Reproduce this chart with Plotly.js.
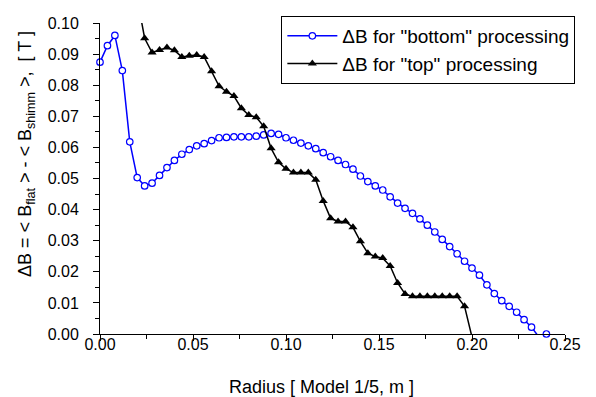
<!DOCTYPE html>
<html><head><meta charset="utf-8">
<script src="https://cdn.plot.ly/plotly-3.0.1.min.js"></script>
<style>html,body{margin:0;padding:0;background:#fff}#chart{width:596px;height:397px}</style>
</head><body><div id="chart"></div>
<script>
const radiusBottom = [0.000,0.004,0.008,0.012,0.016,0.020,0.024,0.028,0.032,0.036,0.040,0.044,0.048,0.052,0.056,0.060,0.064,0.068,0.072,0.076,0.080,0.084,0.088,0.092,0.096,0.100,0.104,0.108,0.112,0.116,0.120,0.124,0.128,0.132,0.136,0.140,0.144,0.148,0.152,0.156,0.160,0.164,0.168,0.172,0.176,0.180,0.184,0.188,0.192,0.196,0.200,0.204,0.208,0.212,0.216,0.220,0.224,0.228,0.232,0.236,0.240];
const dBBottom = [0.0874,0.0927,0.0960,0.0847,0.0618,0.0503,0.0476,0.0485,0.0510,0.0535,
0.0558,0.0578,0.0593,0.0605,0.0612,0.0622,0.0631,0.0632,0.0634,0.0634,
0.0634,0.0636,0.0640,0.0645,0.0642,0.0631,0.0623,0.0614,0.0605,0.0596,
0.0583,0.0570,0.0558,0.0545,0.0530,0.0508,0.0490,0.0476,0.0463,0.0441,
0.0421,0.0404,0.0388,0.0370,0.0350,0.0328,0.0304,0.0281,0.0258,0.0234,
0.0212,0.0189,0.0158,0.0130,0.0107,0.0089,0.0070,0.0046,0.0022,-0.0010,0.0000];
const radiusTop = [0.020,0.024,0.028,0.032,0.036,0.040,0.044,0.048,0.052,0.056,0.060,0.064,0.068,0.072,0.076,0.080,0.084,0.088,0.092,0.096,0.100,0.104,0.108,0.112,0.116,0.120,0.124,0.128,0.132,0.136,0.140,0.144,0.148,0.152,0.156,0.160,0.164,0.168,0.172,0.176,0.180,0.184,0.188,0.192,0.196,0.200];
const dBTop = [0.1080,0.0951,0.0905,0.0913,0.0921,0.0912,0.0891,0.0895,0.0897,0.0891,
0.0845,0.0797,0.0779,0.0765,0.0726,0.0704,0.0697,0.0668,0.0597,0.0552,
0.0531,0.0519,0.0519,0.0519,0.0496,0.0428,0.0372,0.0362,0.0362,0.0343,
0.0298,0.0260,0.0249,0.0244,0.0219,0.0164,0.0129,0.0121,0.0121,0.0121,
0.0121,0.0121,0.0121,0.0121,0.0089,-0.0010];
const seriesNames = ['\u0394B for "bottom" processing', '\u0394B for "top" processing'];
const xTitle = 'Radius [ Model 1/5, m ]';
const yTitle = '\u0394B = < B<sub>flat</sub> > - < B<sub>shimm</sub> >,  [ T ]';

const Y_MIN = 0, Y_MAX = 0.1;
const vis = v => v.map(y => (y >= Y_MIN - 1e-9 && y <= Y_MAX + 1e-9) ? 1 : 0);
const FONT = 'Liberation Sans, Arial, sans-serif';

const traces = [
  {x: radiusBottom, y: dBBottom, name: seriesNames[0], type: 'scatter', mode: 'lines+markers',
   cliponaxis: false,
   line: {color: '#0000ff', width: 1.5},
   marker: {symbol: 'circle', size: 6.5, color: '#ffffff', opacity: vis(dBBottom), line: {color: '#0000ff', width: 1.2}}},
  {x: radiusTop, y: dBTop, name: seriesNames[1], type: 'scatter', mode: 'lines+markers',
   cliponaxis: false,
   line: {color: '#000000', width: 1.5},
   marker: {symbol: 'triangle-up', size: 8, color: '#000000', opacity: vis(dBTop)}}
];

const layout = {
  width: 596, height: 397,
  margin: {l: 100, r: 31, t: 23, b: 63},
  paper_bgcolor: '#fff', plot_bgcolor: '#fff',
  font: {family: FONT, size: 16, color: '#000'},
  showlegend: true,
  legend: {x: 0.39, y: 1.0225, xanchor: 'left', yanchor: 'top',
           bgcolor: '#fff', bordercolor: '#000', borderwidth: 1,
           font: {family: FONT, size: 19, color: '#000'}, itemwidth: 50},
  xaxis: {range: [0, 0.25], dtick: 0.05, tick0: 0, tickformat: '.2f',
          showgrid: false, zeroline: false, showline: true, linecolor: '#000', linewidth: 1,
          ticks: 'outside', ticklen: 6, tickwidth: 1, tickcolor: '#000',
          minor: {dtick: 0.025, ticks: 'outside', ticklen: 4, tickwidth: 1, tickcolor: '#000', showgrid: false},
          tickfont: {family: FONT, size: 16}, ticklabelstandoff: -10},
  yaxis: {range: [Y_MIN, Y_MAX], dtick: 0.01, tick0: 0, tickformat: '.2f',
          showgrid: false, zeroline: false, showline: true, linecolor: '#000', linewidth: 1,
          ticks: 'outside', ticklen: 6, tickwidth: 1, tickcolor: '#000',
          minor: {dtick: 0.005, ticks: 'outside', ticklen: 4, tickwidth: 1, tickcolor: '#000', showgrid: false},
          tickfont: {family: FONT, size: 16}, ticklabelstandoff: 11},
  annotations: [
    {text: xTitle, xref: 'paper', yref: 'paper', x: 0.477, y: -0.172, xanchor: 'center', yanchor: 'middle',
     showarrow: false, font: {family: FONT, size: 18}},
    {text: yTitle, xref: 'paper', yref: 'paper', x: -0.157, y: 0.579, xanchor: 'center', yanchor: 'middle',
     textangle: -90, showarrow: false, font: {family: FONT, size: 18}}
  ]
};
Plotly.newPlot('chart', traces, layout, {staticPlot: true, displayModeBar: false});
</script></body></html>
